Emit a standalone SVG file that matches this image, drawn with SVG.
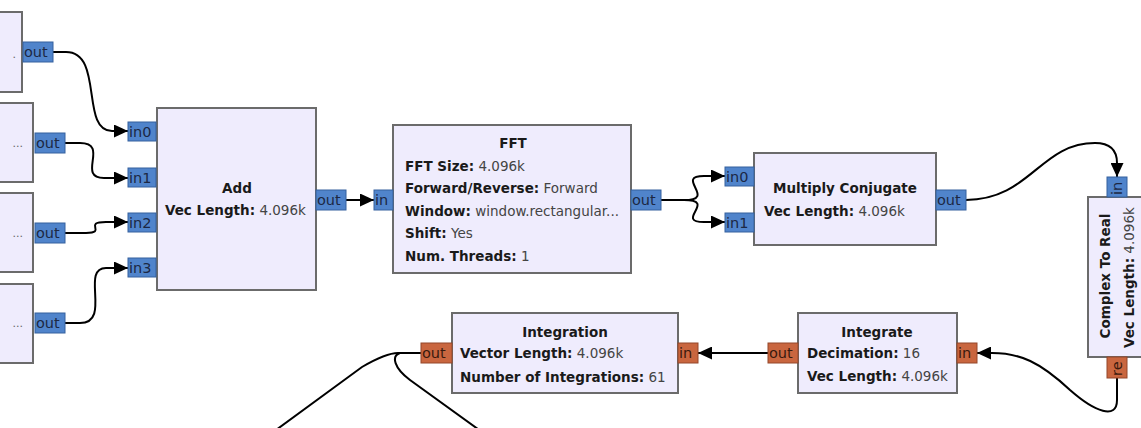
<svg xmlns="http://www.w3.org/2000/svg" width="1141" height="428" viewBox="0 0 1141 428">
<defs>
<style>
.blk{fill:#efecfd;stroke:#6b6b6b;stroke-width:2}
.pc{fill:#5084cb;stroke:#35609e;stroke-width:1}
.pf{fill:#c9663f;stroke:#94472a;stroke-width:1}
.pt{font-family:"DejaVu Sans",sans-serif;font-size:14.5px;fill:#1c2844}
.pto{font-family:"DejaVu Sans",sans-serif;font-size:14.5px;fill:#3a1a0e}
.t{font-family:"DejaVu Sans",sans-serif;font-size:13.5px;fill:#1a1a1a}
.b{font-weight:bold}
.v{fill:#444}
.w{fill:none;stroke:#000;stroke-width:2}
.dots{font-family:"DejaVu Sans",sans-serif;font-size:11px;fill:#666}
</style>
<marker id="ah" markerUnits="userSpaceOnUse" markerWidth="15" markerHeight="13" refX="14" refY="6.5" orient="auto">
<path d="M0,0 L14,6.5 L0,13 z" fill="#000"/>
</marker>
</defs>
<rect width="1141" height="428" fill="#fff"/>

<g id="connectors">
<path class="w" d="M53,52 L66,52 C104,52 80,131 112,131 L128,131" marker-end="url(#ah)"/>
<path class="w" d="M65,143 L80,143 C110,143 76,178 104,178 L128,178" marker-end="url(#ah)"/>
<path class="w" d="M65,233 L86,233 C108,233 82,222 106,222 L128,222" marker-end="url(#ah)"/>
<path class="w" d="M65,323 L80,323 C112,323 80,268 106,268 L128,268" marker-end="url(#ah)"/>
<path class="w" d="M346,200 L374,200" marker-end="url(#ah)"/>
<path class="w" d="M661,200 L684,200 C718,200 674,176 704,176 L725,176" marker-end="url(#ah)"/>
<path class="w" d="M661,200 L684,200 C718,200 674,222 704,222 L725,222" marker-end="url(#ah)"/>
<path class="w" d="M966,200 C1030,200 1040,143 1095,143 C1110,143 1117,150 1117,163 L1117,177" marker-end="url(#ah)"/>
<path class="w" d="M1117,378 L1117,400 C1117,420 1095,412 1070,390 C1040,362 1020,353 992,353 L977,353" marker-end="url(#ah)"/>
<path class="w" d="M768,353 L698,353" marker-end="url(#ah)"/>
<path class="w" d="M421,353 L398,353 Q386,353 362,367 L276,430"/>
<path class="w" d="M400,353 C391,356 394,368 410,380 L482,432"/>
</g>

<g id="src1">
<rect class="blk" x="-10" y="12" width="32" height="80"/>
<text class="dots" x="16" y="58" text-anchor="end">.</text>
<rect class="pc" x="23" y="42" width="30" height="20"/>
<text class="pt" x="24" y="57">out</text>
</g>
<g id="src2">
<rect class="blk" x="-10" y="103" width="43" height="79"/>
<text class="dots" x="23" y="147" text-anchor="end">...</text>
<rect class="pc" x="35" y="133" width="30" height="20"/>
<text class="pt" x="36" y="148">out</text>
</g>
<g id="src3">
<rect class="blk" x="-10" y="193" width="43" height="79"/>
<text class="dots" x="23" y="237" text-anchor="end">...</text>
<rect class="pc" x="35" y="223" width="30" height="20"/>
<text class="pt" x="36" y="238">out</text>
</g>
<g id="src4">
<rect class="blk" x="-10" y="284" width="43" height="79"/>
<text class="dots" x="23" y="327" text-anchor="end">...</text>
<rect class="pc" x="35" y="313" width="30" height="20"/>
<text class="pt" x="36" y="328">out</text>
</g>

<g id="add">
<rect class="blk" x="157" y="108" width="159" height="182"/>
<rect class="pc" x="128" y="122" width="28" height="19"/>
<text class="pt" x="129" y="137">in0</text>
<rect class="pc" x="128" y="168" width="28" height="19"/>
<text class="pt" x="129" y="183">in1</text>
<rect class="pc" x="128" y="213" width="28" height="19"/>
<text class="pt" x="129" y="228">in2</text>
<rect class="pc" x="128" y="258" width="28" height="19"/>
<text class="pt" x="129" y="273">in3</text>
<rect class="pc" x="316" y="190" width="30" height="20"/>
<text class="pt" x="317" y="205">out</text>
<text class="t b" x="237" y="193" text-anchor="middle">Add</text>
<text class="t" x="165" y="215"><tspan class="b">Vec Length:</tspan> <tspan class="v">4.096k</tspan></text>
</g>

<g id="fft">
<rect class="blk" x="393" y="125" width="238" height="148"/>
<rect class="pc" x="374" y="190" width="19" height="20"/>
<text class="pt" x="375" y="205">in</text>
<rect class="pc" x="631" y="190" width="30" height="20"/>
<text class="pt" x="632" y="205">out</text>
<text class="t b" x="513" y="148" text-anchor="middle">FFT</text>
<text class="t" x="405" y="171"><tspan class="b">FFT Size:</tspan> <tspan class="v">4.096k</tspan></text>
<text class="t" x="405" y="193"><tspan class="b">Forward/Reverse:</tspan> <tspan class="v">Forward</tspan></text>
<text class="t" x="405" y="216"><tspan class="b">Window:</tspan> <tspan class="v">window.rectangular...</tspan></text>
<text class="t" x="405" y="238"><tspan class="b">Shift:</tspan> <tspan class="v">Yes</tspan></text>
<text class="t" x="405" y="261"><tspan class="b">Num. Threads:</tspan> <tspan class="v">1</tspan></text>
</g>

<g id="mulconj">
<rect class="blk" x="754" y="153" width="182" height="92"/>
<rect class="pc" x="725" y="167" width="29" height="19"/>
<text class="pt" x="726" y="182">in0</text>
<rect class="pc" x="725" y="213" width="29" height="19"/>
<text class="pt" x="726" y="228">in1</text>
<rect class="pc" x="936" y="190" width="30" height="20"/>
<text class="pt" x="937" y="205">out</text>
<text class="t b" x="845" y="193" text-anchor="middle">Multiply Conjugate</text>
<text class="t" x="764" y="216"><tspan class="b">Vec Length:</tspan> <tspan class="v">4.096k</tspan></text>
</g>

<g id="c2r">
<rect class="blk" x="1088" y="197" width="60" height="160"/>
<rect class="pc" x="1107" y="177" width="20" height="20"/>
<text class="pt" transform="translate(1122,195) rotate(-90)">in</text>
<rect class="pf" x="1107" y="357" width="20" height="21"/>
<text class="pto" transform="translate(1122,376) rotate(-90)">re</text>
<text class="t b" transform="translate(1110,276) rotate(-90)" text-anchor="middle">Complex To Real</text>
<text class="t" transform="translate(1134,348) rotate(-90)"><tspan class="b">Vec Length:</tspan> <tspan class="v">4.096k</tspan></text>
</g>

<g id="integrate">
<rect class="blk" x="798" y="313" width="159" height="80"/>
<rect class="pf" x="768" y="343" width="30" height="20"/>
<text class="pto" x="769" y="358">out</text>
<rect class="pf" x="957" y="343" width="20" height="20"/>
<text class="pto" x="958" y="358">in</text>
<text class="t b" x="877" y="337" text-anchor="middle">Integrate</text>
<text class="t" x="807" y="358"><tspan class="b">Decimation:</tspan> <tspan class="v">16</tspan></text>
<text class="t" x="807" y="381"><tspan class="b">Vec Length:</tspan> <tspan class="v">4.096k</tspan></text>
</g>

<g id="integration">
<rect class="blk" x="452" y="313" width="226" height="80"/>
<rect class="pf" x="421" y="343" width="31" height="20"/>
<text class="pto" x="422" y="358">out</text>
<rect class="pf" x="678" y="343" width="20" height="20"/>
<text class="pto" x="679" y="358">in</text>
<text class="t b" x="565" y="337" text-anchor="middle">Integration</text>
<text class="t" x="460" y="358"><tspan class="b">Vector Length:</tspan> <tspan class="v">4.096k</tspan></text>
<text class="t" x="460" y="382"><tspan class="b">Number of Integrations:</tspan> <tspan class="v">61</tspan></text>
</g>
</svg>
